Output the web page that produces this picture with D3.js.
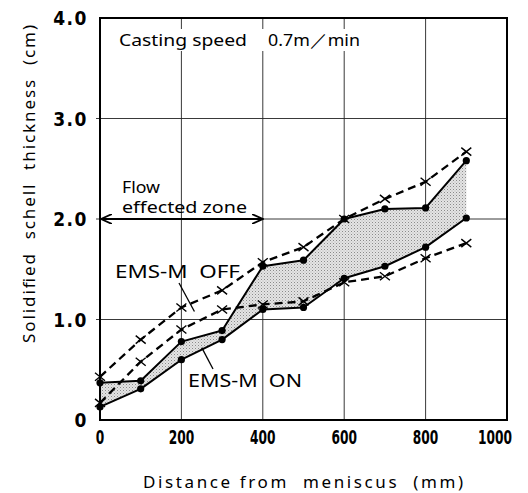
<!DOCTYPE html>
<html>
<head>
<meta charset="utf-8">
<script src="https://cdn.jsdelivr.net/npm/d3@7"></script>
<style>
  body { margin: 0; background: #fff; }
  text { fill: #000; white-space: pre; }
</style>
</head>
<body>
<svg id="chart"></svg>
<script>
// Distance from meniscus (mm)
const distance = [0, 100, 200, 300, 400, 500, 600, 700, 800, 900];

// EMS-M OFF, dashed lines with x markers (cm)
const offUpper = [0.43, 0.80, 1.12, 1.29, 1.57, 1.72, 2.00, 2.20, 2.37, 2.67];
const offLower = [0.17, 0.58, 0.90, 1.10, 1.15, 1.18, 1.37, 1.43, 1.61, 1.76];

// EMS-M ON, solid lines with dots (cm), shaded band between them
const onUpper = [0.37, 0.39, 0.78, 0.89, 1.53, 1.59, 2.00, 2.10, 2.11, 2.58];
const onLower = [0.13, 0.31, 0.60, 0.80, 1.10, 1.12, 1.41, 1.53, 1.72, 2.01];

const xTicks = [0, 200, 400, 600, 800, 1000];
const yTicks = [0, 1, 2, 3, 4];
const yTickLabels = ["0", "1.0", "2.0", "3.0", "4.0"];

const dimensions = {
    width: 528,
    height: 493,
    marginLeft: 100,
    marginRight: 21,
    marginTop: 18,
    marginBottom: 73
};

const svg = d3.select("#chart")
    .attr("width", dimensions.width)
    .attr("height", dimensions.height);

const tickFont = "'Liberation Sans Narrow', 'DejaVu Sans Condensed', 'Liberation Sans', sans-serif";
const labelFont = "'Noto Sans', 'DejaVu Sans', sans-serif";

let x = d3.scaleLinear()
    .domain([0, 1000])
    .range([dimensions.marginLeft, dimensions.width - dimensions.marginRight]);

let y = d3.scaleLinear()
    .domain([0, 4])
    .range([dimensions.height - dimensions.marginBottom, dimensions.marginTop]);

// Stipple pattern for the shaded band
let defs = svg.append("defs");
let pattern = defs.append("pattern")
    .attr("id", "stipple")
    .attr("width", 3).attr("height", 3)
    .attr("patternUnits", "userSpaceOnUse");
pattern.append("rect")
    .attr("width", 3).attr("height", 3)
    .attr("fill", "#e4e4e4");
pattern.append("rect")
    .attr("width", 1).attr("height", 1)
    .attr("fill", "#8a8a8a");
pattern.append("rect")
    .attr("x", 1.5).attr("y", 1.5)
    .attr("width", 1).attr("height", 1)
    .attr("fill", "#b0b0b0");

// Grid lines
svg.append("g")
    .selectAll("line")
    .data(xTicks.slice(1, -1))
    .enter()
    .append("line")
    .attr("x1", d => x(d)).attr("x2", d => x(d))
    .attr("y1", y(0)).attr("y2", y(4))
    .attr("stroke", "#222")
    .attr("stroke-width", 0.9);

svg.append("g")
    .selectAll("line")
    .data(yTicks.slice(1, -1))
    .enter()
    .append("line")
    .attr("x1", x(0) - 4).attr("x2", x(1000))
    .attr("y1", d => y(d)).attr("y2", d => y(d))
    .attr("stroke", "#222")
    .attr("stroke-width", 0.9);

// Shaded band between EMS-M ON lines
let band = d3.area()
    .x((d, i) => x(distance[i]))
    .y0((d, i) => y(onLower[i]))
    .y1((d, i) => y(onUpper[i]));

svg.append("path")
    .datum(distance)
    .attr("fill", "url(#stipple)")
    .attr("stroke", "none")
    .attr("d", band);

// Frame
svg.append("rect")
    .attr("x", x(0)).attr("y", y(4))
    .attr("width", x(1000) - x(0))
    .attr("height", y(0) - y(4))
    .attr("fill", "none")
    .attr("stroke", "#000")
    .attr("stroke-width", 2);

// Tick labels (digits ~8.5px wide, kept inside the page)
const digitWidth = 8.5;
svg.append("g")
    .selectAll("text")
    .data(xTicks)
    .enter()
    .append("text")
    .attr("x", d => Math.min(x(d), dimensions.width - 16 - String(d).length * digitWidth / 2))
    .attr("y", y(0) + 24)
    .attr("text-anchor", "middle")
    .attr("textLength", d => String(d).length * digitWidth)
    .attr("lengthAdjust", "spacingAndGlyphs")
    .style("font-family", tickFont)
    .style("font-weight", "bold")
    .style("font-size", "20px")
    .text(d => d);

svg.append("g")
    .selectAll("text")
    .data(yTicks)
    .enter()
    .append("text")
    .attr("x", x(0) - 12)
    .attr("y", d => y(d) + 7)
    .attr("text-anchor", "end")
    .style("font-family", tickFont)
    .style("font-weight", "bold")
    .style("font-size", "19px")
    .style("letter-spacing", "1.5px")
    .text((d, i) => yTickLabels[i]);

// Lines
let lineFor = values => d3.line()
    .x((d, i) => x(distance[i]))
    .y((d, i) => y(values[i]))(distance);

[offUpper, offLower].forEach(values => {
    svg.append("path")
        .attr("d", lineFor(values))
        .attr("fill", "none")
        .attr("stroke", "#000")
        .attr("stroke-width", 2.3)
        .attr("stroke-dasharray", "8,5");

    svg.append("g")
        .selectAll("path")
        .data(distance)
        .enter()
        .append("path")
        .attr("transform", (d, i) => `translate(${x(d)},${y(values[i])})`)
        .attr("d", "M-5,-4L5,4M-5,4L5,-4")
        .attr("stroke", "#000")
        .attr("stroke-width", 1.4);
});

[onUpper, onLower].forEach(values => {
    svg.append("path")
        .attr("d", lineFor(values))
        .attr("fill", "none")
        .attr("stroke", "#000")
        .attr("stroke-width", 2)
        .attr("stroke-linejoin", "round");

    svg.append("g")
        .selectAll("circle")
        .data(distance)
        .enter()
        .append("circle")
        .attr("cx", d => x(d))
        .attr("cy", (d, i) => y(values[i]))
        .attr("r", 3.6)
        .attr("fill", "#000");
});

// Flow effected zone arrow
defs.append("marker")
    .attr("id", "head")
    .attr("viewBox", "0 0 12 10")
    .attr("refX", 11).attr("refY", 5)
    .attr("markerWidth", 12).attr("markerHeight", 10)
    .attr("markerUnits", "userSpaceOnUse")
    .attr("orient", "auto-start-reverse")
    .append("path")
    .attr("d", "M0,0L11,5L0,10")
    .attr("fill", "none")
    .attr("stroke", "#000")
    .attr("stroke-width", 1.8);

svg.append("line")
    .attr("x1", x(0) + 1).attr("x2", x(400))
    .attr("y1", y(2)).attr("y2", y(2))
    .attr("stroke", "#000")
    .attr("stroke-width", 2)
    .attr("marker-start", "url(#head)")
    .attr("marker-end", "url(#head)");

// Plain text label fitted to the width it has in the picture
function label(text, lx, ly, width, size) {
    return svg.append("text")
        .attr("x", lx).attr("y", ly)
        .attr("textLength", width)
        .attr("lengthAdjust", "spacingAndGlyphs")
        .style("font-family", labelFont)
        .style("font-size", size + "px")
        .text(text);
}

label("Flow", 122, 193, 38, 16);
label("effected zone", 122, 213, 125, 16);

// Casting speed note, with white behind it
svg.append("rect")
    .attr("x", 116).attr("y", 29)
    .attr("width", 248).attr("height", 22)
    .attr("fill", "#fff");

label("Casting speed", 119, 46, 128, 17);
label("0.7m／min", 268, 46, 92, 17);

// Series labels with leader lines
label("EMS-M  OFF", 115, 278, 125, 18);

svg.append("line")
    .attr("x1", 179).attr("y1", 283)
    .attr("x2", x(232)).attr("y2", y(1.08))
    .attr("stroke", "#000")
    .attr("stroke-width", 1.3);

label("EMS-M  ON", 188, 387, 114, 18);

svg.append("line")
    .attr("x1", 213).attr("y1", 369)
    .attr("x2", x(250)).attr("y2", y(0.72))
    .attr("stroke", "#000")
    .attr("stroke-width", 1.3);

// Axis titles
svg.append("text")
    .attr("x", 143).attr("y", 488)
    .attr("textLength", 320)
    .attr("lengthAdjust", "spacing")
    .style("font-family", labelFont)
    .style("font-size", "17px")
    .text("Distance from  meniscus  (mm)");

svg.append("text")
    .attr("transform", "translate(35,343) rotate(-90)")
    .attr("textLength", 318)
    .attr("lengthAdjust", "spacing")
    .style("font-family", labelFont)
    .style("font-size", "17px")
    .text("Solidified  schell  thickness  (cm)");
</script>
</body>
</html>
